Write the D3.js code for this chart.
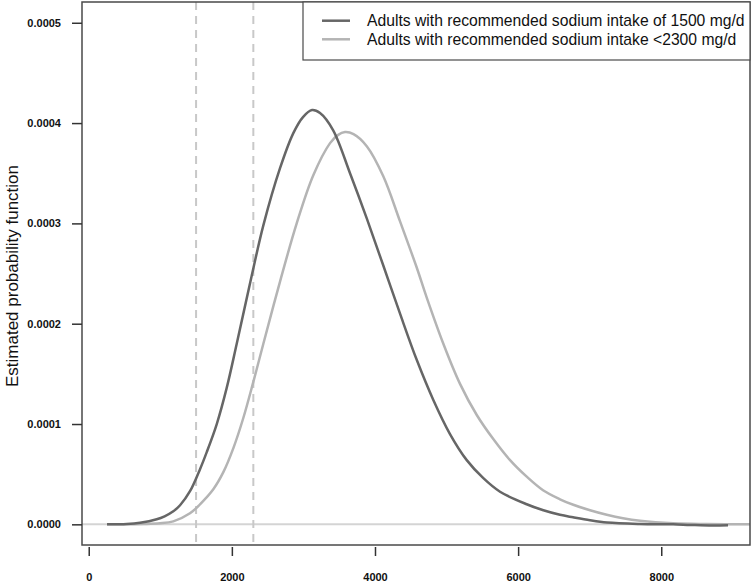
<!DOCTYPE html>
<html>
<head>
<meta charset="utf-8">
<script src="https://cdn.jsdelivr.net/npm/d3@7"></script>
<style>
  body { margin: 0; background: #fff; }
  svg { display: block; }
</style>
</head>
<body>
<script>
// sodium intake (mg/d) vs estimated density (density in units of 1e-4)
let intake1500 = [256, 531, 717, 950, 1060, 1182, 1276, 1415, 1555, 1649, 1789, 1928, 2068, 2278, 2440, 2673, 2859, 2994, 3120, 3232, 3414, 3651, 3885, 4116, 4350, 4583, 4815, 5048, 5282, 5514, 5747, 6120, 6353, 6585, 6767, 7005, 7242, 7703, 8165, 8402, 8710, 8933];
let density1500 = [0, 0.003, 0.015, 0.05, 0.08, 0.13, 0.19, 0.33, 0.55, 0.72, 1.0, 1.36, 1.80, 2.48, 2.98, 3.55, 3.90, 4.06, 4.13, 4.10, 3.93, 3.50, 3.05, 2.58, 2.10, 1.64, 1.24, 0.90, 0.64, 0.46, 0.325, 0.20, 0.14, 0.095, 0.07, 0.04, 0.018, 0.004, 0, -0.006, -0.012, -0.01];

let intake2300 = [256, 763, 996, 1182, 1415, 1555, 1741, 1881, 2021, 2160, 2300, 2440, 2673, 2906, 3138, 3372, 3480, 3581, 3700, 3885, 4116, 4350, 4583, 4723, 4955, 5188, 5422, 5653, 5887, 6120, 6348, 6585, 6771, 7005, 7238, 7466, 7703, 8168, 8635, 9240];
let density2300 = [0, 0.003, 0.01, 0.03, 0.11, 0.20, 0.35, 0.52, 0.76, 1.06, 1.42, 1.80, 2.42, 3.0, 3.48, 3.80, 3.88, 3.91, 3.89, 3.77, 3.47, 3.02, 2.56, 2.26, 1.80, 1.40, 1.09, 0.85, 0.64, 0.475, 0.34, 0.25, 0.195, 0.14, 0.095, 0.06, 0.035, 0.01, 0.003, 0];

let xTicks = [0, 2000, 4000, 6000, 8000];
let yTicks = [0, 0.0001, 0.0002, 0.0003, 0.0004, 0.0005];
let cutoffs = [1500, 2300];
let legendLabels = ["Adults with recommended sodium intake of 1500 mg/d", "Adults with recommended sodium intake <2300 mg/d"];
let lineColors = ["#666666", "#b4b4b4"];

let W = 752, H = 585;
let box = {left: 82, right: 750, top: 2, bottom: 545};

let svg = d3.select("body").append("svg")
    .attr("width", W)
    .attr("height", H);

let x = d3.scaleLinear().domain([-94, 9240]).range([box.left, box.right]);
let y = d3.scaleLinear().domain([-0.0000206, 0.0005207]).range([box.bottom, box.top]);

let tickFont = "bold 11px 'Liberation Sans', Arial, sans-serif";

svg.append("clipPath").attr("id", "plotclip")
  .append("rect")
    .attr("x", box.left).attr("y", box.top)
    .attr("width", box.right - box.left)
    .attr("height", box.bottom - box.top);

// zero line
svg.append("line")
    .attr("x1", box.left).attr("x2", box.right)
    .attr("y1", y(0)).attr("y2", y(0))
    .attr("stroke", "#d4d4d4")
    .attr("stroke-width", 2);

// dashed cutoffs
svg.selectAll(".cut")
    .data(cutoffs)
    .enter().append("line")
    .attr("class", "cut")
    .attr("x1", d => x(d)).attr("x2", d => x(d))
    .attr("y1", box.top).attr("y2", box.bottom)
    .attr("stroke", "#c8c8c8")
    .attr("stroke-width", 2)
    .attr("stroke-dasharray", "8,6");

let line = d3.line()
    .x(d => x(d[0]))
    .y(d => y(d[1] * 1e-4))
    .curve(d3.curveCatmullRom.alpha(0.5));

let series = [
    d3.zip(intake2300, density2300),
    d3.zip(intake1500, density1500)
];
let seriesColors = [lineColors[1], lineColors[0]];

svg.append("g")
    .attr("clip-path", "url(#plotclip)")
  .selectAll(".curve")
    .data(series)
    .enter().append("path")
    .attr("class", "curve")
    .attr("d", line)
    .attr("fill", "none")
    .attr("stroke", (d, i) => seriesColors[i])
    .attr("stroke-width", 2.5)
    .attr("stroke-linejoin", "round");

// plot box
svg.append("rect")
    .attr("x", box.left).attr("y", box.top)
    .attr("width", box.right - box.left)
    .attr("height", box.bottom - box.top)
    .attr("fill", "none")
    .attr("stroke", "#4a4a4a")
    .attr("stroke-width", 1.5);

// y axis
let yAxis = d3.axisLeft(y)
    .tickValues(yTicks)
    .tickSize(10)
    .tickPadding(11)
    .tickFormat(d3.format(".4f"));

let gy = svg.append("g")
    .attr("transform", "translate(" + box.left + ",0)")
    .call(yAxis);
gy.select(".domain").remove();
gy.selectAll("line").attr("stroke", "#333").attr("stroke-width", 1.5);
gy.selectAll("text").style("font", tickFont).attr("fill", "#111");

// x axis (ticks hang below the box, no axis line)
let xAxis = d3.axisBottom(x)
    .tickValues(xTicks)
    .tickSize(9)
    .tickPadding(17)
    .tickFormat(d3.format("d"));

let gx = svg.append("g")
    .attr("transform", "translate(0," + (box.bottom + 2) + ")")
    .call(xAxis);
gx.select(".domain").remove();
gx.selectAll("line").attr("stroke", "#333").attr("stroke-width", 1.5);
gx.selectAll("text").style("font", tickFont).attr("fill", "#111");

// y label
svg.append("text")
    .attr("transform", "translate(18," + 276 + ") rotate(-90)")
    .attr("text-anchor", "middle")
    .style("font", "17px 'Liberation Sans', Arial, sans-serif")
    .attr("fill", "#111")
    .text("Estimated probability function");

// legend
let legend = svg.append("g");
legend.append("rect")
    .attr("x", 303).attr("y", box.top)
    .attr("width", box.right - 303)
    .attr("height", 58)
    .attr("fill", "#fff")
    .attr("stroke", "#4a4a4a")
    .attr("stroke-width", 1.2);

let items = legend.selectAll(".item")
    .data(legendLabels)
    .enter().append("g")
    .attr("class", "item")
    .attr("transform", (d, i) => "translate(0," + (20.7 + i * 18.6) + ")");

items.append("line")
    .attr("x1", 322).attr("x2", 350)
    .attr("stroke", (d, i) => lineColors[i])
    .attr("stroke-width", 2.5);

items.append("text")
    .attr("x", 367)
    .attr("dy", "0.35em")
    .style("font", "15.7px 'Liberation Sans', Arial, sans-serif")
    .attr("fill", "#111")
    .text(d => d);
</script>
</body>
</html>
